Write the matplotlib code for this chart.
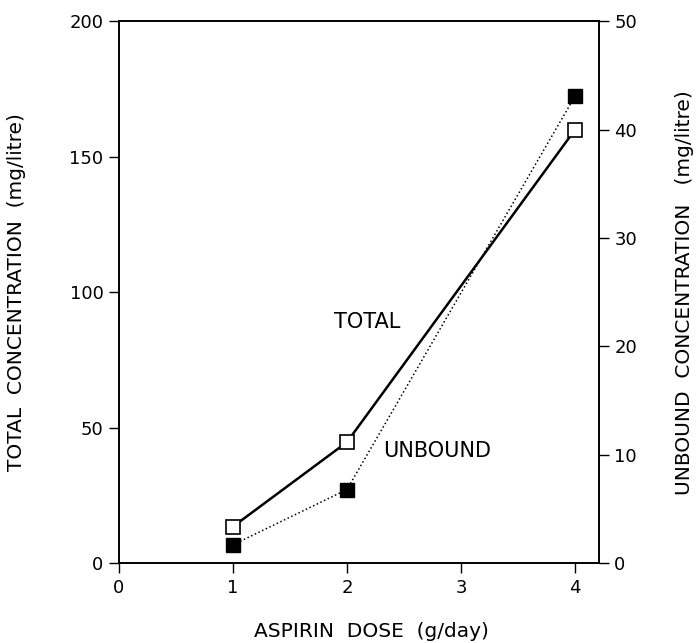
import matplotlib
matplotlib.use('Agg')
import matplotlib.pyplot as plt

plt.rcParams['font.family'] = ['DejaVu Sans']

# data
dose = [1, 2, 4]
total_conc = [13.5, 44.7, 160.0]      # mg/litre, left axis
unbound_conc = [1.7, 6.8, 43.1]       # mg/litre, right axis

x_ticks = [0, 1, 2, 3, 4]
left_ticks = [0, 50, 100, 150, 200]
right_ticks = [0, 10, 20, 30, 40, 50]

fig = plt.figure(figsize=(6.99, 6.43), dpi=100)
ax = fig.add_axes([0.170, 0.124, 0.687, 0.843])
ax2 = ax.twinx()

ax.plot(dose, total_conc, '-', color='black', lw=1.8, marker='s', ms=9.5,
        mfc='white', mec='black', mew=1.2, zorder=3)
ax2.plot(dose, unbound_conc, ':', color='black', lw=1.1, marker='s', ms=9.5,
         mfc='black', mec='black', zorder=3)

ax.set_xlim(0, 4.21)
ax.set_ylim(0, 200)
ax2.set_ylim(0, 50)
ax.set_xticks(x_ticks)
ax.set_yticks(left_ticks)
ax2.set_yticks(right_ticks)

for a in (ax, ax2):
    a.tick_params(direction='out', length=7, width=1, labelsize=13, pad=4)
    for s in a.spines.values():
        s.set_linewidth(1.2)

ax.set_xlabel('ASPIRIN  DOSE  (g/day)', fontsize=14.5, labelpad=18)
ax.xaxis.label.set_x(0.527)
ax.set_ylabel('TOTAL  CONCENTRATION  (mg/litre)', fontsize=14.5, labelpad=31)
ax2.set_ylabel('UNBOUND  CONCENTRATION   (mg/litre)', fontsize=14.5, labelpad=27)

ax.text(2.18, 89, 'TOTAL', fontsize=15, ha='center', va='center')
ax.text(2.79, 41.5, 'UNBOUND', fontsize=15, ha='center', va='center')

fig.savefig('out.png', dpi=100)
